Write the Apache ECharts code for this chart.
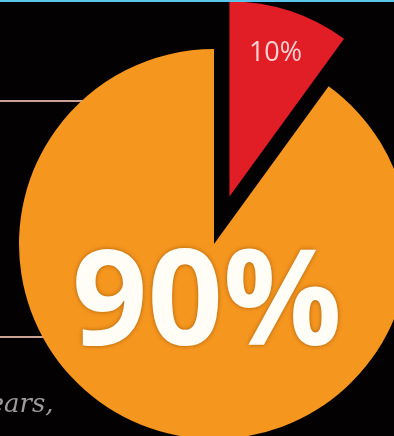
<!DOCTYPE html>
<html>
<head>
<meta charset="utf-8">
<script src="https://cdn.jsdelivr.net/npm/echarts@6/dist/echarts.min.js"></script>
<style>
  html, body { margin: 0; padding: 0; background: #030102; }
  #chart { width: 394px; height: 436px; }
</style>
</head>
<body>
<div id="chart"></div>
<script>
// ─── Data ────────────────────────────────────────────────────────────────
const sliceNames  = ['Minority', 'Majority'];
const sliceValues = [10, 90];
const sliceLabels = ['10%', '90%'];
const sliceColors = ['#e11d25', '#f5961f'];

// label nudges (px) from the default inside / center spots
const labelShift = [[15, -48], [-2, 2]];

// ─── Chart ───────────────────────────────────────────────────────────────
const chart = echarts.init(document.getElementById('chart'));

const pieData = sliceNames.map((name, i) => ({
  name,
  value: sliceValues[i],
  selected: i === 0,
  itemStyle: { color: sliceColors[i] },
  label: i === 0
    ? { position: 'inside', color: '#f6d2d2', fontSize: 27,
        fontFamily: 'Open Sans', fontWeight: 'normal', formatter: sliceLabels[i] }
    : { position: 'center', offset: [-5, 61], color: '#fffdf6', fontSize: 132,
        fontFamily: 'Open Sans', fontWeight: 'bold', formatter: sliceLabels[i],
        textShadowColor: 'rgba(120,60,0,0.6)', textShadowBlur: 4 }
}));

chart.setOption({
  backgroundColor: '#030102',
  animation: false,
  graphic: [
    { type: 'rect', shape: { x: 0, y: 0, width: 394, height: 2 },
      style: { fill: '#5cc6ea' }, z: 100 },
    { type: 'line', shape: { x1: 0, y1: 101, x2: 90, y2: 101 },
      style: { stroke: '#c9a296', lineWidth: 2 }, z: 0 },
    { type: 'line', shape: { x1: 0, y1: 337, x2: 60, y2: 337 },
      style: { stroke: '#c9a296', lineWidth: 2 }, z: 0 },
    { type: 'text', x: -26, y: 392,
      style: { text: 'years,', fill: '#9c9c9c', fontSize: 26,
               fontFamily: 'DejaVu Serif', fontStyle: 'italic' }, z: 0 }
  ],
  series: [{
    type: 'pie',
    center: [214, 244],
    radius: [0, 195],
    startAngle: 90,
    clockwise: true,
    selectedMode: 'single',
    selectedOffset: 50,
    silent: true,
    z: 5,
    labelLine: { show: false },
    labelLayout: (params) => ({
      dx: labelShift[params.dataIndex][0],
      dy: labelShift[params.dataIndex][1]
    }),
    data: pieData
  }]
});
</script>
</body>
</html>
